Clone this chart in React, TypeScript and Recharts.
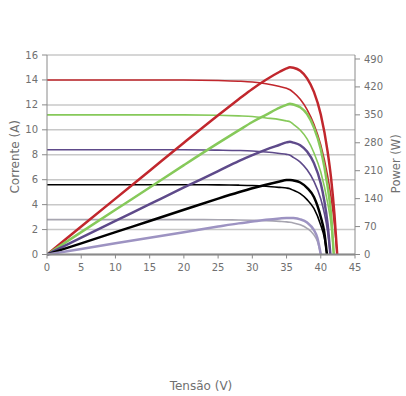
import React from 'react';
import { LineChart, Line, XAxis, YAxis, CartesianGrid } from 'recharts';

// Voltage samples (V), current (A) and power (W) per irradiance curve
const vRed = [0, 5, 10, 15, 20, 25, 28, 30, 32, 34, 35, 35.5, 36, 37, 38, 39, 40, 41, 41.5, 42, 42.4];
const iRed = [14.0, 14.0, 14.0, 14.0, 14.0, 13.96, 13.9, 13.83, 13.69, 13.47, 13.33, 13.21, 13.0, 12.45, 11.62, 10.45, 8.78, 6.3, 4.62, 2.38, 0];
const pRed = [0, 70, 140, 210, 280, 349, 389, 415, 438, 458, 466.5, 469, 468, 460.5, 441.5, 407.5, 351, 258, 192, 100, 0];

const vGreen = [0, 5, 10, 15, 20, 25, 28, 30, 32, 34, 35, 35.5, 36, 37, 38, 39, 40, 41, 41.5, 41.9];
const iGreen = [11.2, 11.2, 11.2, 11.2, 11.2, 11.17, 11.12, 11.07, 10.95, 10.82, 10.71, 10.65, 10.44, 9.98, 9.27, 8.16, 6.61, 4.14, 2.46, 0];
const pGreen = [0, 56, 112, 168, 224, 279, 311, 332, 350, 368, 375, 378, 376, 369, 352, 318, 264, 170, 102, 0];

const vPurple = [0, 5, 10, 15, 20, 25, 28, 30, 32, 34, 35, 35.5, 36, 37, 38, 39, 40, 40.5, 41, 41.4];
const iPurple = [8.4, 8.4, 8.4, 8.4, 8.4, 8.37, 8.34, 8.3, 8.22, 8.1, 8.03, 7.96, 7.79, 7.41, 6.79, 5.87, 4.45, 3.36, 1.85, 0];
const pPurple = [0, 42, 84, 126, 168, 209, 234, 249, 263, 275, 281, 282.5, 280.5, 274, 258, 229, 178, 136, 76, 0];

const vBlack = [0, 5, 10, 15, 20, 25, 28, 30, 32, 34, 35, 35.5, 36, 37, 38, 39, 40, 40.5, 40.9];
const iBlack = [5.6, 5.6, 5.6, 5.6, 5.6, 5.58, 5.56, 5.53, 5.47, 5.38, 5.33, 5.27, 5.15, 4.88, 4.4, 3.69, 2.35, 1.4, 0];
const pBlack = [0, 28, 56, 84, 112, 140, 156, 166, 175, 183, 186.5, 187, 185.5, 180.5, 167, 144, 94, 57, 0];

const vLight = [0, 5, 10, 15, 20, 25, 28, 30, 32, 34, 35, 35.5, 36, 37, 38, 39, 39.5, 40];
const iLight = [2.8, 2.8, 2.8, 2.8, 2.8, 2.79, 2.77, 2.75, 2.72, 2.66, 2.62, 2.58, 2.53, 2.38, 2.1, 1.57, 1.06, 0];
const pLight = [0, 14, 28, 42, 56, 70, 78, 82.5, 87, 90.4, 91.7, 91.6, 91.2, 88, 80, 61, 42, 0];

const xTicks = [0, 5, 10, 15, 20, 25, 30, 35, 40, 45];
const currentTicks = [0, 2, 4, 6, 8, 10, 12, 14, 16];
const powerTicks = [0, 70, 140, 210, 280, 350, 420, 490];

const build = (v: number[], i: number[], p: number[]) =>
  v.map((x, k) => ({ v: x, i: i[k], p: p[k] }));

const series = [
  { name: 'red', data: build(vRed, iRed, pRed), iColor: '#c1272d', pColor: '#c1272d' },
  { name: 'green', data: build(vGreen, iGreen, pGreen), iColor: '#86c95a', pColor: '#86c95a' },
  { name: 'purple', data: build(vPurple, iPurple, pPurple), iColor: '#5e4a8a', pColor: '#5e4a8a' },
  { name: 'black', data: build(vBlack, iBlack, pBlack), iColor: '#000000', pColor: '#000000' },
  { name: 'light', data: build(vLight, iLight, pLight), iColor: '#a7a5b0', pColor: '#9d93c2' },
];

const FONT = 'DejaVu Sans';
const tickStyle = { fontSize: 10, fill: '#707070', fontFamily: FONT };
const titleStyle = { fontSize: 12, fill: '#707070', fontFamily: FONT };

export default function App() {
  return (
    <div style={{ position: 'absolute', left: 0, top: 0, width: 406, height: 396 }}>
      <LineChart width={406} height={396} margin={{ top: 55, right: 0, bottom: 0, left: 0 }}>
        <CartesianGrid yAxisId="left" vertical={false} stroke="#c8c8c8" strokeWidth={1.5} />
        <XAxis
          type="number"
          dataKey="v"
          domain={[0, 45]}
          ticks={xTicks}
          allowDataOverflow
          height={141.5}
          tick={tickStyle}
          tickSize={4}
          tickMargin={5}
          stroke="#8a8a8a"
          axisLine={{ stroke: '#8a8a8a', strokeWidth: 2 }}
          label={{ value: 'Tensão (V)', position: 'insideBottom', offset: 6, style: titleStyle }}
        />
        <YAxis
          yAxisId="left"
          domain={[0, 16]}
          ticks={currentTicks}
          width={47}
          tick={tickStyle}
          tickSize={5}
          tickMargin={4}
          stroke="#8a8a8a"
          label={{ value: 'Corrente (A)', angle: -90, position: 'center', dx: -8.5, dy: 2, style: titleStyle }}
        />
        <YAxis
          yAxisId="right"
          orientation="right"
          domain={[0, 500]}
          ticks={powerTicks}
          width={51}
          tick={tickStyle}
          tickSize={5}
          tickMargin={4}
          stroke="#8a8a8a"
          label={{ value: 'Power (W)', angle: -90, position: 'center', dx: 15, dy: 9, style: { ...titleStyle, fontSize: 11.5 } }}
        />
        {series.map((s) => (
          <Line
            key={s.name + '-i'}
            yAxisId="left"
            data={s.data}
            dataKey="i"
            type="monotone"
            stroke={s.iColor}
            strokeWidth={1.6}
            dot={false}
            isAnimationActive={false}
          />
        ))}
        {series.map((s) => (
          <Line
            key={s.name + '-p'}
            yAxisId="right"
            data={s.data}
            dataKey="p"
            type="monotone"
            stroke={s.pColor}
            strokeWidth={2.5}
            dot={false}
            isAnimationActive={false}
          />
        ))}
      </LineChart>
    </div>
  );
}
